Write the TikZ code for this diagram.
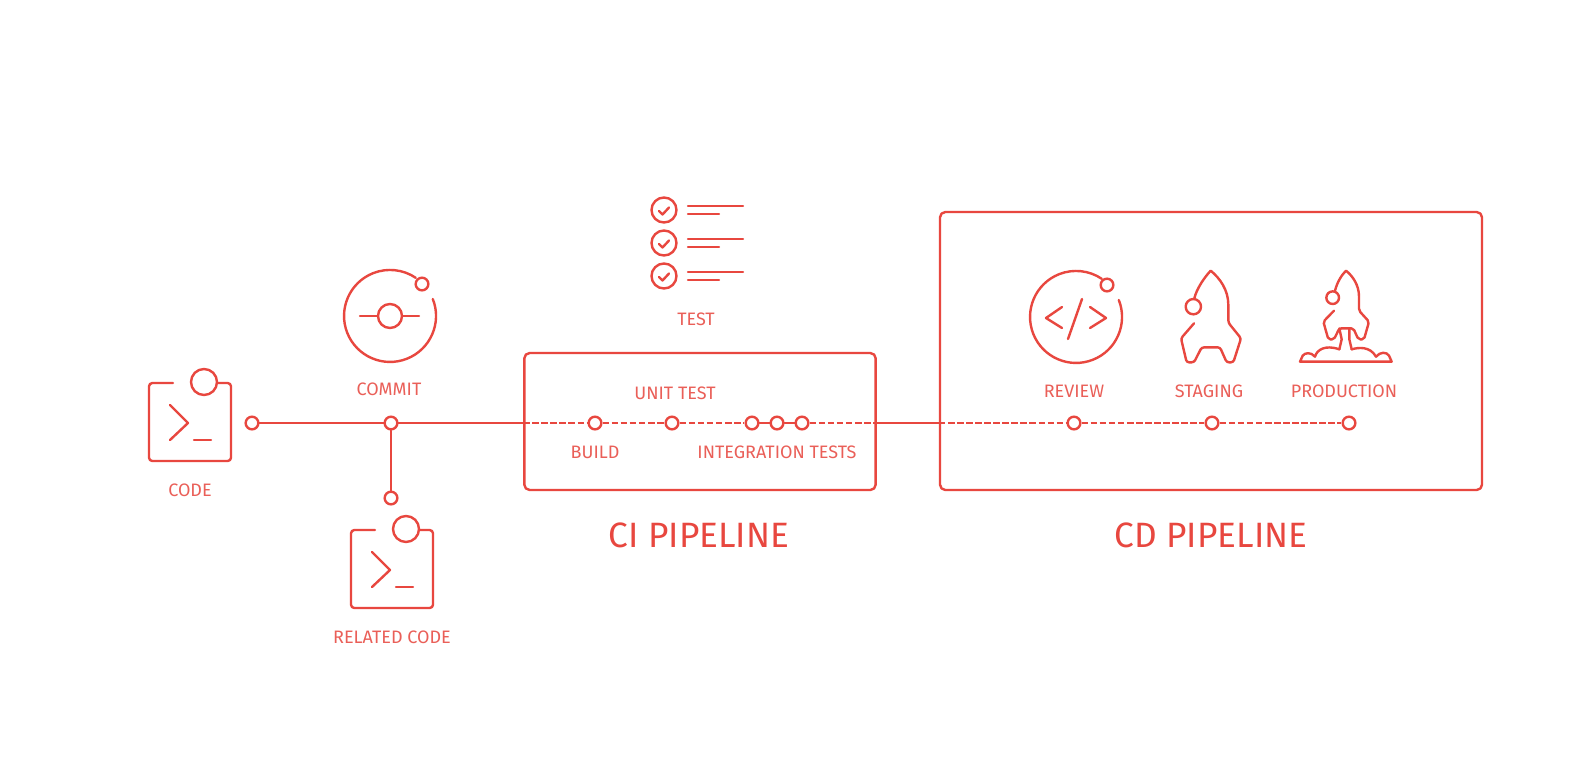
\documentclass[tikz,border=0pt]{standalone}
\usepackage{fontspec}
\setmainfont{Fira Sans}
\definecolor{rd}{HTML}{E8473F}
\definecolor{rdt}{HTML}{EA5F58}
\tikzset{
 x=0.75pt,y=-0.75pt,
 ln/.style={draw=rd,line width=1.8pt,line cap=round,line join=round},
 dot/.style={circle,draw=rd,fill=white,line width=1.8pt,minimum size=9.5pt,inner sep=0pt},
 bigdot/.style={circle,draw=rd,fill=white,line width=1.8pt,inner sep=0pt},
 lab/.style={text=rdt,font=\fontsize{13.5}{16}\selectfont,inner sep=0pt,anchor=center},
 head/.style={text=rd,font=\fontsize{26.4}{30}\selectfont,inner sep=0pt,anchor=center},
 pipebox/.style={ln,rounded corners=4pt},
 dsh/.style={draw=rd,line width=1.6pt,dash pattern=on 5pt off 1.8pt},
}
\newcommand{\termicon}[2]{%
 \begin{scope}[shift={(#1,#2)}]
 \draw[ln,rounded corners=2.5pt] (68,0)--(82,0)--(82,78)--(0,78)--(0,0)--(24,0);
 \draw[ln] (21,22)--(39,40)--(21,57);
 \draw[ln] (45,57)--(62,57);
 \node[bigdot,minimum size=19.5pt] at (55,-1) {};
 \end{scope}}
\newcommand{\checkicon}[1]{%
 \begin{scope}[shift={(0,#1)}]
 \draw[ln] (664,210) circle (12.5);
 \draw[ln] (659,211)--(662.5,214.5)--(669,207.5);
 \draw[ln] (688,206)--(743,206);
 \draw[ln] (688,214)--(719,214);
 \end{scope}}
\begin{document}
\begin{tikzpicture}
\useasboundingbox[fill=white] (0,0) rectangle (1584,783);
% boxes
\node[pipebox,minimum width=263.5pt,minimum height=102.75pt,inner sep=0pt] (cibox) at (700,421.5) {};
\node[pipebox,minimum width=406.5pt,minimum height=208.5pt,inner sep=0pt] (cdbox) at (1211,351) {};
% line nodes
\coordinate (ciin) at (cibox.west|-0,423);
\coordinate (ciout) at (cibox.east|-0,423);
\coordinate (cdin) at (cdbox.west|-0,423);
\node[dot] (n1) at (252,423) {};
\node[dot] (n2) at (391,423) {};
\node[dot] (n3) at (391,498) {};
\node[dot] (b1) at (595,423) {};
\node[dot] (b2) at (672,423) {};
\node[dot] (i1) at (752,423) {};
\node[dot] (i2) at (777,423) {};
\node[dot] (i3) at (802,423) {};
\node[dot] (r1) at (1074,423) {};
\node[dot] (r2) at (1212,423) {};
\node[dot] (r3) at (1349,423) {};
\draw[ln] (n1)--(n2);
\draw[ln] (n2)--(n3);
\draw[ln] (n2)--(ciin);
\draw[dsh] (ciin)--(b1);
\draw[dsh] (b1)--(b2);
\draw[dsh] (b2)--(i1);
\draw[ln] (i1)--(i2);
\draw[ln] (i2)--(i3);
\draw[dsh] (i3)--(ciout);
\draw[ln] (ciout)--(cdin);
\draw[dsh] (cdin)--(r1);
\draw[dsh] (r1)--(r2);
\draw[dsh] (r2)--(r3);
% icons
\termicon{149}{383}
\termicon{351}{530}
% commit
\draw[ln] (432.8,299) arc[start angle=-21.6,end angle=304,radius=46];
\node[dot] (cs) at (422,284) {};
\node[bigdot,minimum size=18pt] (ci) at (390,316) {};
\coordinate (cl) at (360,316);
\coordinate (cr) at (419,316);
\draw[ln] (cl)--(ci);
\draw[ln] (ci)--(cr);
% test
\checkicon{0}\checkicon{33}\checkicon{66}
% review
\draw[ln] (1118.8,300) arc[start angle=-21.6,end angle=304,radius=46];
\node[dot] (rs) at (1107,285) {};
\draw[ln] (1062,307)--(1046,318)--(1062,328);
\draw[ln] (1082,299)--(1068,339);
\draw[ln] (1090,307)--(1106,318)--(1090,328);
% staging
\begin{scope}[shift={(1170,260)},x=0.25pt,y=-0.25pt]
\draw[ln] (73,115) .. controls (80,85) and (105,50) .. (122,32) .. controls (150,55) and (175,90) .. (175,135) [rounded corners=1.8pt] -- (175,188) -- (213,235) -- (190,307) -- (170,307) -- (150,262) -- (95,262) -- (72,307) -- (50,307) -- (33,235) -- (72,190);
\draw[ln] (70,140) circle (23);
\end{scope}
% production
\begin{scope}[shift={(1290,260)},x=0.25pt,y=-0.25pt]
\draw[ln] (135,92) .. controls (142,65) and (155,45) .. (168,32) .. controls (188,48) and (207,75) .. (207,110) [rounded corners=1.5pt] -- (207,152) -- (237,185) -- (222,238) -- (205,238) -- (190,205) -- (148,205) -- (132,238) -- (115,238) -- (100,185) -- (132,152);
\draw[ln] (128,113) circle (19);
\draw[ln] (148,205) -- (155,238) -- (148,268);
\draw[ln] (178,205) -- (178,238) -- (185,268);
\draw[ln] (148,268) .. controls (105,253) and (80,270) .. (75,290) .. controls (62,275) and (45,278) .. (38,287) -- (30,305) -- (305,305) -- (297,287) .. controls (290,275) and (270,275) .. (258,290) .. controls (240,258) and (205,262) .. (185,268);
\end{scope}
% labels
\node[lab] (tcode) at (190,490) {CODE};
\node[lab] (trel) at (392,637) {RELATED CODE};
\node[lab] (tcom) at (389,389) {COMMIT};
\node[lab] (ttest) at (696,319) {TEST};
\node[lab] (tunit) at (675,393) {UNIT TEST};
\node[lab] (tbuild) at (595,452) {BUILD};
\node[lab] (tint) at (777,452) {INTEGRATION TESTS};
\node[lab] (trev) at (1074,391) {REVIEW};
\node[lab] (tsta) at (1209,391) {STAGING};
\node[lab] (tpro) at (1344,391) {PRODUCTION};
\node[head] (tci) at (699,535) {CI PIPELINE};
\node[head] (tcd) at (1211,535) {CD PIPELINE};
\end{tikzpicture}
\end{document}
